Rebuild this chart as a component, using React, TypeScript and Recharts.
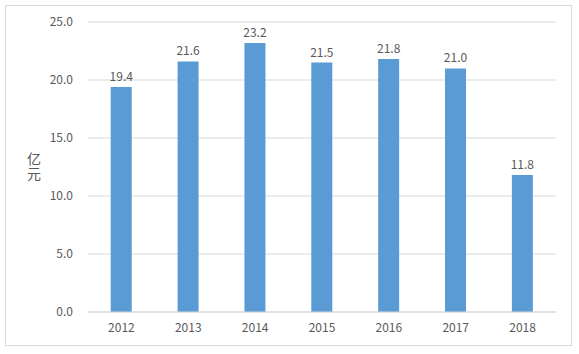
import React from 'react';
import { BarChart, Bar, XAxis, YAxis, CartesianGrid, LabelList } from 'recharts';

const years = ['2012', '2013', '2014', '2015', '2016', '2017', '2018'];
const amounts = [19.4, 21.6, 23.2, 21.5, 21.8, 21.0, 11.8];
const yTicks = [0, 5, 10, 15, 20, 25];
const unitText = '亿元';

const data = years.map((year, i) => ({ year, amount: amounts[i] }));

const FONT = '"Noto Sans CJK SC", "Noto Sans", sans-serif';
const TEXT = '#595959';

// vertical unit label, like Excel's stacked "亿元"
function UnitLabel() {
  return (
    <text
      x={34}
      y={152}
      fontSize={14}
      fill={TEXT}
      fontFamily={FONT}
      style={{ writingMode: 'vertical-rl', letterSpacing: 1 }}
    >
      {unitText}
    </text>
  );
}

export default function App() {
  return (
    <div style={{ position: 'absolute', left: 0, top: 0, width: 579, height: 354, background: '#fff' }}>
      <div
        style={{
          position: 'absolute',
          left: 5,
          top: 5,
          width: 567,
          height: 341,
          border: '1px solid #D9D9D9',
          boxSizing: 'border-box',
        }}
      />
      <BarChart
        width={579}
        height={354}
        data={data}
        margin={{ top: 22, right: 23, left: 0, bottom: 12 }}
        barCategoryGap="34%"
        style={{ position: 'absolute', left: 0, top: 0, fontFamily: FONT }}
      >
        <CartesianGrid vertical={false} stroke="#D9D9D9" />
        <XAxis
          dataKey="year"
          height={30}
          axisLine={{ stroke: '#D9D9D9' }}
          tickLine={false}
          tickSize={6}
          tickMargin={5}
          tick={{ fontSize: 12, fill: TEXT }}
        />
        <YAxis
          width={88}
          domain={[0, 25]}
          ticks={yTicks}
          interval={0}
          axisLine={false}
          tickLine={false}
          tickSize={6}
          tickMargin={9}
          tickFormatter={(v: number) => v.toFixed(1)}
          tick={{ fontSize: 12, fill: TEXT }}
          label={{ content: <UnitLabel /> }}
        />
        <Bar dataKey="amount" fill="#5B9BD5" isAnimationActive={false}>
          <LabelList
            dataKey="amount"
            position="top"
            offset={6}
            formatter={(v: number) => v.toFixed(1)}
            style={{ fontSize: 12, fill: TEXT }}
          />
        </Bar>
      </BarChart>
    </div>
  );
}
